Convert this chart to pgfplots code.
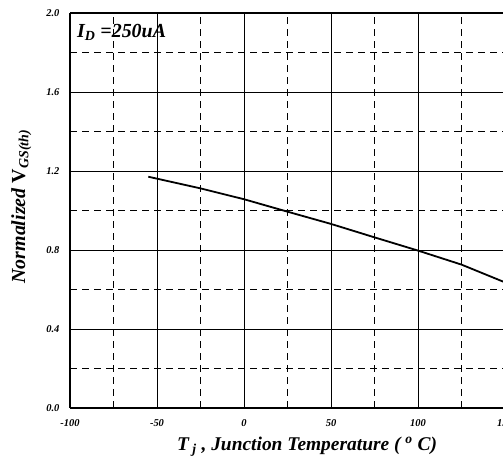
\documentclass[border=0pt]{standalone}
\usepackage{pgfplots}
\pgfplotsset{compat=1.18}
\usepackage{fontspec}
\setmainfont{Liberation Serif}
\begin{document}
\begin{tikzpicture}
\begin{axis}[
    at={(70bp,61bp)}, anchor=south west,
    scale only axis,
    width=435bp, height=395bp,
    xmin=-100, xmax=150,
    ymin=0, ymax=2.0,
    xtick={-100,-50,0,50,100,150},
    ytick={0,0.4,0.8,1.2,1.6,2.0},
    minor tick num=1,
    grid=both,
    major grid style={black, line width=0.6bp},
    minor grid style={black, line width=0.6bp, dash pattern=on 7bp off 5bp},
    axis x line=box, axis y line=left,
    axis line style={line width=1.8bp, -},
    tick style={draw=none},
    /pgf/number format/assume math mode=true,
    ticklabel style={font=\fontsize{10.5}{12}\selectfont\bfseries\itshape},
    xticklabel style={yshift=-8bp},
    yticklabel style={/pgf/number format/fixed, /pgf/number format/fixed zerofill,
        /pgf/number format/precision=1, xshift=-5bp},
    xlabel={T\textsubscript{ j} , Junction Temperature ( \textsuperscript{o} C)},
    xlabel style={at={(axis description cs:0.545,-0.098)}, anchor=center,
        font=\fontsize{19.5}{22}\selectfont\bfseries\itshape},
    ylabel={Normalized \textup{V}\textsubscript{GS(th)}},
    ylabel style={at={(axis description cs:-0.112,0.51)}, anchor=center,
        font=\fontsize{20}{23}\selectfont\bfseries\itshape},
]

% normalized threshold voltage vs junction temperature
\addplot[black, line width=1.8bp] coordinates {
    (-55,1.171)
    (-25,1.112)
    (0,1.057)
    (25,0.994)
    (50,0.932)
    (75,0.864)
    (100,0.797)
    (125,0.726)
    (150,0.636)
};

\node[anchor=west, font=\fontsize{20}{23}\selectfont\bfseries\itshape, inner sep=0pt]
    at (axis cs:-96,1.9) {I\textsubscript{D} =250uA};

\end{axis}
\pgfresetboundingbox
\path[use as bounding box] (0,0) rectangle (503bp,469bp);
\end{tikzpicture}
\end{document}
